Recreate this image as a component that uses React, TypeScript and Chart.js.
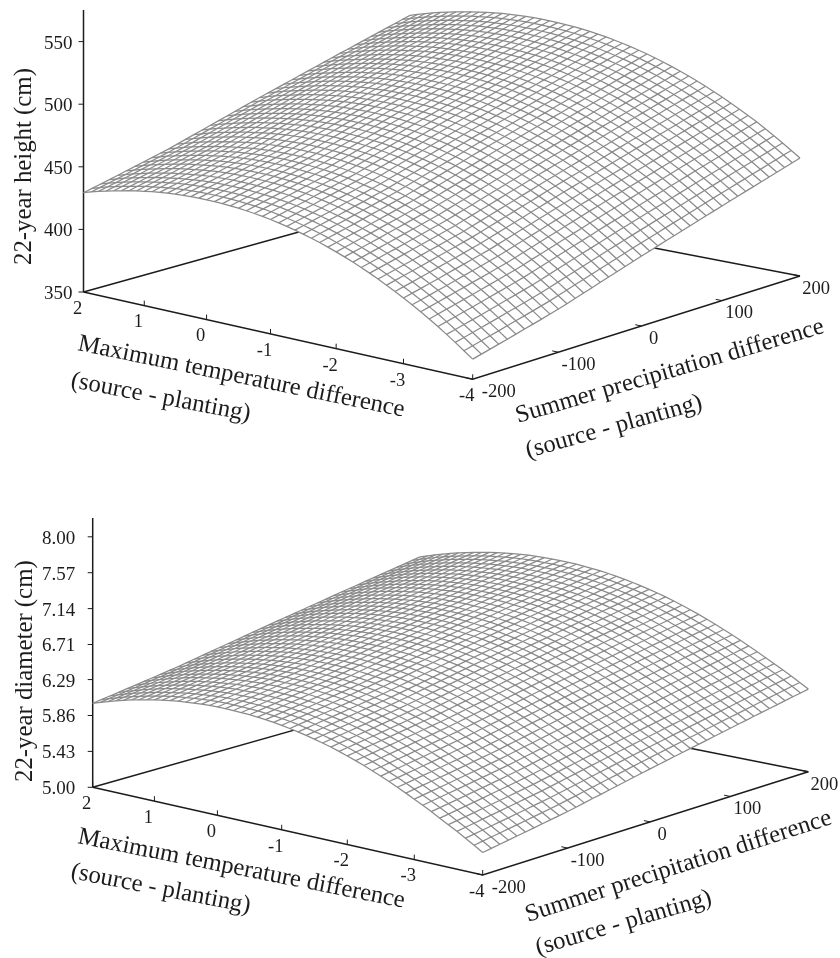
import React, { useEffect, useRef } from "react";
import { Chart, registerables } from "chart.js";

Chart.register(...registerables);

// Axis tick values and labels
const temperatureTicks = [2, 1, 0, -1, -2, -3, -4];
const precipitationTicks = [-200, -100, 0, 100, 200];
const heightTicks = ["350", "400", "450", "500", "550"];
const diameterTicks = ["5.00", "5.43", "5.86", "6.29", "6.71", "7.14", "7.57", "8.00"];

// Surface profiles. The surface edges show an additive response:
// the height along temperature at the driest edge (P = -200, T = 2 .. -4), plus the
// gain along precipitation (P = -200 .. 200), which is the same on both opposite edges.
const heightAtDriestEdge = [429.3, 431.1, 432.8, 434.3, 435.7, 436.95, 438.2, 439.3, 440.2, 441.05, 441.8, 442.4, 442.9, 443.15, 443.33, 443.4, 443.33, 443.13, 442.8, 442.3, 441.73, 441, 440.13, 439.17, 438, 436.67, 435.2, 433.6, 431.87, 430, 428, 425.76, 423.43, 420.95, 418.31, 415.5, 412.6, 409.45, 406.2, 402.8, 399.25, 395.52, 391.7, 387.72, 383.43, 379, 374.45, 369.71, 364.9];
const heightPrecipGain = [0, 1.7, 3.4, 5.1, 6.8, 8.6, 10.4, 12.1, 13.9, 15.7, 17.5, 19.6, 21.7, 23.8, 25.9, 28, 30.1, 32.2, 34.3, 36.4, 38.5, 40.5, 42.5, 44.5, 46.5, 48.5, 50.5, 52.5, 54.5, 56.5, 58.5, 60.5, 62.4, 64.4, 66.3, 68.3, 70.2, 72.2, 74.1, 76.1, 78];
const diameterAtDriestEdge = [6.006, 6.037, 6.066, 6.094, 6.119, 6.142, 6.164, 6.183, 6.201, 6.217, 6.231, 6.243, 6.253, 6.2605, 6.267, 6.2705, 6.272, 6.2715, 6.269, 6.265, 6.259, 6.2505, 6.24, 6.228, 6.214, 6.197, 6.177, 6.156, 6.133, 6.108, 6.081, 6.051, 6.019, 5.985, 5.949, 5.91, 5.869, 5.827, 5.782, 5.736, 5.688, 5.639, 5.588, 5.535, 5.482, 5.428, 5.372, 5.314, 5.254];
const diameterPrecipGain = [0, 0.016, 0.032, 0.048, 0.064, 0.08, 0.097, 0.113, 0.13, 0.147, 0.164, 0.183, 0.203, 0.223, 0.242, 0.262, 0.282, 0.301, 0.321, 0.341, 0.36, 0.379, 0.398, 0.417, 0.435, 0.454, 0.473, 0.491, 0.51, 0.529, 0.548, 0.566, 0.584, 0.603, 0.621, 0.639, 0.657, 0.676, 0.694, 0.712, 0.73];

const FONT = '"Liberation Serif"';
const INK = "#1c1c1c";
const MESH = "#8a8a8a";

type Pt = [number, number];
type Panel = {
  top: number; height: number;
  L: Pt; F: Pt; R: Pt; B: Pt;
  axisTop: number; zMin: number; pxPerUnit: number;
  zTicks: string[]; zTitle: string; zTitleStart: Pt; zLabelGap: number;
  temps: number[]; gains: number[];
  tTitle: [Pt, Pt, Pt, Pt];
  pTitle: [Pt, Pt, Pt, Pt];
};

const panels: Panel[] = [
  {
    top: 0, height: 479,
    L: [83.5, 292], F: [472.7, 379.3], R: [800, 276], B: [410, 201],
    axisTop: 10, zMin: 350, pxPerUnit: 1.252,
    zTicks: heightTicks, zTitle: "22-year height (cm)", zTitleStart: [31, 265], zLabelGap: 11,
    temps: heightAtDriestEdge, gains: heightPrecipGain,
    tTitle: [[77, 350], [405, 417], [70, 387], [250, 421]],
    pTitle: [[518, 423], [827, 332], [528, 458], [705, 408]],
  },
  {
    top: 479, height: 479,
    L: [92.7, 787.3], F: [482.7, 875], R: [808.3, 771.7], B: [420, 694.4],
    axisTop: 518, zMin: 5, pxPerUnit: 83.5,
    zTicks: diameterTicks, zTitle: "22-year diameter (cm)", zTitleStart: [32, 782], zLabelGap: 17.5,
    temps: diameterAtDriestEdge, gains: diameterPrecipGain,
    tTitle: [[77, 843], [405, 908], [70, 878], [250, 913]],
    pTitle: [[528, 922], [835, 823], [538, 955], [715, 903]],
  },
];

const tLabelOffset: Pt = [-6, 17];
const pLabelDx = [26, 20, 12, 17, 16];
const pLabelDy = 13;

function makeProjection(p: Panel) {
  const [x0, y0] = p.L, [x1, y1] = p.F, [x2, y2] = p.R, [x3, y3] = p.B;
  const dx1 = x1 - x2, dx2 = x3 - x2, sx = x0 - x1 + x2 - x3;
  const dy1 = y1 - y2, dy2 = y3 - y2, sy = y0 - y1 + y2 - y3;
  const den = dx1 * dy2 - dx2 * dy1;
  const g = (sx * dy2 - dx2 * sy) / den;
  const h = (dx1 * sy - sx * dy1) / den;
  const a = x1 - x0 + g * x1, b = x3 - x0 + h * x3;
  const d = y1 - y0 + g * y1, e = y3 - y0 + h * y3;
  return (u: number, v: number, z: number) => {
    const w = g * u + h * v + 1;
    return {
      x: (a * u + b * v + x0) / w,
      y: (d * u + e * v + y0) / w - ((z - p.zMin) * p.pxPerUnit) / w,
    };
  };
}

const uOf = (t: number) => (2 - t) / 6;
const vOf = (pr: number) => (pr + 200) / 400;

function buildDatasets(p: Panel) {
  const proj = makeProjection(p);
  const nT = p.temps.length, nP = p.gains.length;
  const at = (i: number, j: number) =>
    proj(i / (nT - 1), j / (nP - 1), p.temps[i] + p.gains[j]);
  const line = (data: { x: number; y: number }[], color: string, width: number, order: number, extra: object = {}) => ({
    type: "scatter" as const, data, showLine: true, pointRadius: 0, borderColor: color,
    borderWidth: width, order, fill: false, ...extra,
  });
  const sets: any[] = [];

  // mesh on top
  for (let i = 0; i < nT; i++) {
    const pts = [];
    for (let j = 0; j < nP; j++) pts.push(at(i, j));
    sets.push(line(pts, MESH, 1.25, 1));
  }
  for (let j = 0; j < nP; j++) {
    const pts = [];
    for (let i = 0; i < nT; i++) pts.push(at(i, j));
    sets.push(line(pts, MESH, 1.25, 1));
  }

  // white silhouette hides the floor lines behind the surface
  const outline = [];
  for (let i = 0; i < nT; i++) outline.push(at(i, 0));
  for (let j = 1; j < nP; j++) outline.push(at(nT - 1, j));
  for (let i = nT - 2; i >= 0; i--) outline.push(at(i, nP - 1));
  for (let j = nP - 2; j >= 0; j--) outline.push(at(0, j));
  sets.push(line(outline, "rgba(0,0,0,0)", 0, 2, { fill: "shape", backgroundColor: "#ffffff" }));

  // floor and axes
  const zTop = { x: p.L[0], y: p.axisTop };
  const ground = (u: number, v: number) => proj(u, v, p.zMin);
  sets.push(line([zTop, ground(0, 0)], INK, 1.5, 3));
  sets.push(line([ground(0, 0), ground(1, 0), ground(1, 1)], INK, 1.5, 3));
  sets.push(line([ground(0, 0), ground(0, 1), ground(1, 1)], INK, 1.5, 3));
  for (const t of temperatureTicks) {
    const q = ground(uOf(t), 0);
    sets.push(line([q, { x: q.x, y: q.y - 5 }], INK, 1, 3));
  }
  for (const pr of precipitationTicks) {
    const q = ground(1, vOf(pr));
    const r = ground(0.985, vOf(pr));
    sets.push(line([q, r], INK, 1, 3));
  }
  for (const z of p.zTicks) {
    const q = proj(0, 0, Number(z));
    sets.push(line([q, { x: q.x - 5, y: q.y }], INK, 1, 3));
  }
  return { sets, proj };
}

function SurfacePanel({ panel }: { panel: Panel }) {
  const ref = useRef<HTMLCanvasElement>(null);
  useEffect(() => {
    const { sets, proj } = buildDatasets(panel);
    const textPlugin = {
      id: "surfaceLabels",
      afterDraw(chart: any) {
        const c = chart.ctx;
        const sx = (v: number) => chart.scales.x.getPixelForValue(v);
        const sy = (v: number) => chart.scales.y.getPixelForValue(v);
        c.save();
        c.fillStyle = INK;
        c.textBaseline = "middle";
        c.font = `19px ${FONT}`;
        c.textAlign = "right";
        for (const z of panel.zTicks) {
          const q = proj(0, 0, Number(z));
          c.fillText(z, sx(q.x - panel.zLabelGap), sy(q.y + 2));
        }
        c.font = `18.5px ${FONT}`;
        c.textAlign = "center";
        for (const t of temperatureTicks) {
          const q = proj(uOf(t), 0, panel.zMin);
          c.fillText(String(t), sx(q.x + tLabelOffset[0]), sy(q.y + tLabelOffset[1]));
        }
        precipitationTicks.forEach((pr, k) => {
          const q = proj(1, vOf(pr), panel.zMin);
          c.fillText(String(pr), sx(q.x + pLabelDx[k]), sy(q.y + pLabelDy));
        });
        c.textBaseline = "alphabetic";
        c.textAlign = "left";
        const slanted = (text: string, a: Pt, b: Pt, size: number) => {
          c.save();
          c.font = `${size}px ${FONT}`;
          c.translate(sx(a[0]), sy(a[1]));
          c.rotate(Math.atan2(b[1] - a[1], b[0] - a[0]));
          c.fillText(text, 0, 0);
          c.restore();
        };
        slanted("Maximum temperature difference", panel.tTitle[0], panel.tTitle[1], 24.7);
        slanted("(source - planting)", panel.tTitle[2], panel.tTitle[3], 24.7);
        slanted("Summer precipitation difference", panel.pTitle[0], panel.pTitle[1], 24.7);
        slanted("(source - planting)", panel.pTitle[2], panel.pTitle[3], 24.7);
        const st = panel.zTitleStart;
        slanted(panel.zTitle, st, [st[0], st[1] - 100], 24.8);
        c.restore();
      },
    };
    const chart = new Chart(ref.current!, {
      type: "scatter",
      data: { datasets: sets },
      plugins: [textPlugin],
      options: {
        animation: false,
        responsive: false,
        layout: { padding: 0 },
        plugins: { legend: { display: false }, tooltip: { enabled: false } },
        scales: {
          x: { type: "linear", display: false, min: 0, max: 840 },
          y: { type: "linear", display: false, min: panel.top, max: panel.top + panel.height, reverse: true },
        },
      },
    } as any);
    return () => chart.destroy();
  }, [panel]);
  return <canvas ref={ref} width={840} height={panel.height} style={{ display: "block" }} />;
}

export default function App() {
  return (
    <div style={{ position: "absolute", left: 0, top: 0, width: 840, height: 958, background: "#fff" }}>
      {panels.map((p) => (
        <SurfacePanel key={p.top} panel={p} />
      ))}
    </div>
  );
}
